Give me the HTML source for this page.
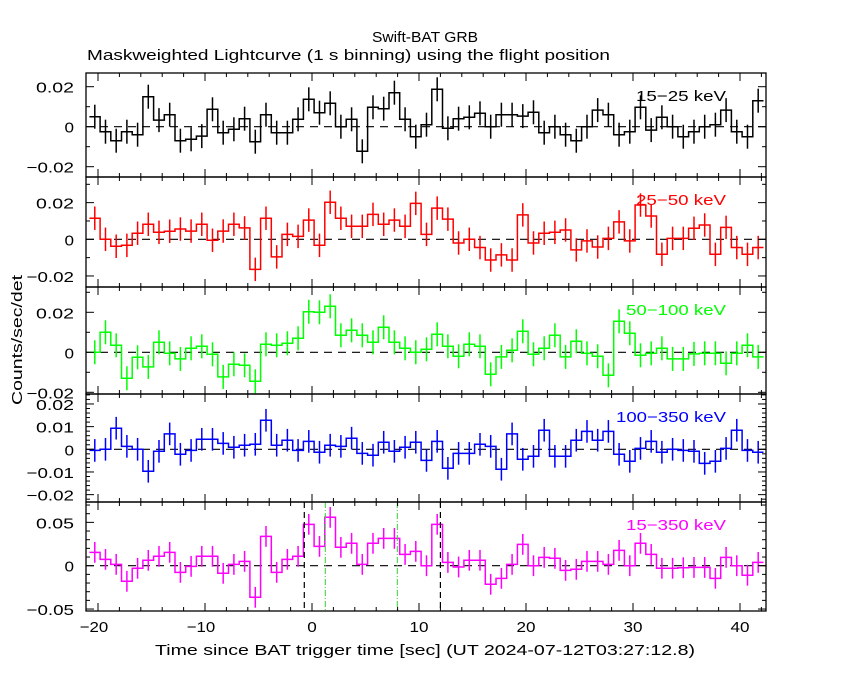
<!DOCTYPE html>
<html><head><meta charset="utf-8"><style>
body{margin:0;background:#fff;}
svg{display:block;font-family:"Liberation Sans","DejaVu Sans",sans-serif;}
</style></head><body>
<svg id="chart" width="850" height="680" viewBox="0 0 850 680" xmlns="http://www.w3.org/2000/svg">
<rect width="850" height="680" fill="#fff"/>
<text x="372" y="42" font-size="15" textLength="106" lengthAdjust="spacingAndGlyphs">Swift-BAT GRB</text>
<text x="87" y="60" font-size="15" textLength="523" lengthAdjust="spacingAndGlyphs">Maskweighted Lightcurve (1 s binning) using the flight position</text>
<text x="155" y="655" font-size="15" textLength="540" lengthAdjust="spacingAndGlyphs">Time since BAT trigger time [sec] (UT 2024-07-12T03:27:12.8)</text>
<text transform="translate(22,405) rotate(-90)" font-size="15" textLength="130" lengthAdjust="spacingAndGlyphs">Counts/sec/det</text>
<g id="plots"></g>
</svg>
<script>
// time bins (bin centers, seconds)
const binStart = -20.3;
const nBins = 63;
const series1 = [0.005,-0.0025,-0.007,-0.0025,-0.004,0.015,0.0033,0.006,-0.007,-0.0063,-0.0047,0.0087,-0.003,-0.0013,0.004,-0.0075,0.006,-0.003,-0.003,0.0037,0.0137,0.007,0.0117,0,0.0037,-0.0123,0.0097,0.009,0.017,0.0037,-0.005,0.001,0.0187,-0.0008,0.004,0.0047,0.0067,0,0.006,0.006,0.0053,0.0072,-0.003,0,-0.004,-0.007,0,0.0083,0.006,-0.004,-0.0025,0.0097,-0.0017,0.0047,0,-0.005,-0.0025,0,0.001,0.0083,-0.0025,-0.005,0.013];
const series2 = [0.0115,0,-0.0038,-0.0033,0.0033,0.0082,0.0038,0.0044,0.0056,0.0045,0.0082,-0.0005,0.0045,0.0082,0.0062,-0.0164,0.0115,-0.0096,0.0027,0.0016,0.0105,-0.0033,0.0202,0.0115,0.0071,0.0071,0.0136,0.0082,0.0105,0.0071,0.0196,0.0027,0.017,0.011,-0.002,0,-0.0045,-0.0113,-0.0085,-0.0113,0.0133,-0.002,0.0033,0.0038,0.0051,-0.0058,-0.0009,-0.0042,0.0005,0.0095,-0.0009,0.0187,0.0127,-0.0082,0.0005,0.0005,0.006,0.0078,-0.0082,0.0065,-0.0045,-0.0082,-0.0045];
const series3 = [0,0.01,0.0035,-0.013,-0.0025,-0.0073,0.005,-0.0005,-0.0033,0.002,0.003,-0.001,-0.0123,-0.006,-0.0065,-0.0145,0.004,0.0035,0.0045,0.007,0.0203,0.02,0.023,0.0085,0.011,0.0085,0.005,0.0125,0.005,0.002,0,0.0015,0.009,0.003,-0.002,0.004,0.003,-0.011,-0.0023,0.001,0.0105,-0.001,0.002,0.0085,-0.0023,0.0055,-0.0005,-0.002,-0.0115,0.0155,0.0095,-0.0015,-0.0005,0.002,-0.0033,-0.0033,-0.0008,-0.0005,-0.0005,-0.0055,-0.0005,0.0035,-0.0023];
const series4 = [-0.0005,0,0.0093,0.0013,0,-0.0097,-0.0009,0.0068,-0.0022,-0.0005,0.0044,0.0044,0.0026,0.0009,0.0018,0.0022,0.0128,0.0018,0.004,-0.0005,0.0035,-0.0013,0.0018,0.0013,0.0049,-0.0018,-0.0026,0.0031,-0.0009,0.0009,0.0031,-0.0049,0.0035,-0.0084,-0.0018,-0.0018,0.0022,0.0013,-0.0088,0.0068,-0.0044,-0.0031,0.0084,-0.0031,-0.0031,0.004,0.0079,0.004,0.0079,-0.0022,-0.0053,0.0004,0.0035,-0.0013,0,-0.0005,-0.0009,-0.0062,-0.0053,0.0004,0.0084,-0.0005,-0.0013];
const series5 = [0.0154,0.0073,0.0015,-0.018,-0.003,0.0062,0.0108,0.0154,-0.0077,-0.0008,0.0108,0.0108,-0.0088,0.0015,0.005,-0.0365,0.0338,-0.0077,0.0073,0.0108,0.0477,0.0223,0.0558,0.0212,0.0258,0.0015,0.0258,0.0315,0.0315,0.013,0.0165,0,0.0477,0.0038,-0.0015,0.0062,0.0062,-0.0215,-0.0146,0.0015,0.0246,0,0.0096,0.0085,-0.0054,-0.0042,0.005,0.005,0.0015,0.0177,0,0.0258,0.013,-0.003,-0.003,-0.0023,-0.002,-0.002,-0.0146,0.0096,0,-0.011,0.0038];
const errors = [0.006,0.0064,0.006,0.005,0.012];
const bandLabels = ["15-25 keV","25-50 keV","50-100 keV","100-350 keV","15-350 keV"];
const xTickLabels = [-20,-10,0,10,20,30,40];
const markerTimes = [-0.72, 12.0];
const markerTimes2 = [1.24, 7.97];

const NS="http://www.w3.org/2000/svg";
const L=86,R=766,X0=312,PXS=10.7;
function xs(t){return X0+PXS*t;}
const panels=[
 {data:series1,color:"#000",top:73,bot:177,y0:126.7,k:2000,maj:0.02,min:0.01,labs:[0.02,0,-0.02],name:"panel-15-25kev"},
 {data:series2,color:"#f00",top:177,bot:287,y0:239.3,k:1833,maj:0.02,min:0.01,labs:[0.02,0,-0.02],name:"panel-25-50kev"},
 {data:series3,color:"#0f0",top:287,bot:394,y0:352.3,k:2000,maj:0.02,min:0.01,labs:[0.02,0,-0.02],name:"panel-50-100kev"},
 {data:series4,color:"#00f",top:394,bot:502,y0:449.3,k:2267,maj:0.01,min:0.002,labs:[0.02,0.01,0,-0.01,-0.02],name:"panel-100-350kev"},
 {data:series5,color:"#f0f",top:502,bot:611,y0:565.7,k:866.7,maj:0.05,min:0.01,labs:[0.05,0,-0.05],name:"panel-15-350kev"}
];
const root=document.getElementById('plots');
function el(tag,attrs,parent){const e=document.createElementNS(NS,tag);for(const a in attrs)e.setAttribute(a,attrs[a]);(parent||root).appendChild(e);return e;}
function fmt(v){if(v===0)return "0";return (v<0?"\u2212":"")+Math.abs(v).toString();}
function tlen(s){return s.length*9.5;}
panels.forEach((p,pi)=>{
 const g=el('g',{});
 
 
 const ys=v=>p.y0-p.k*v;
 const cp=el('clipPath',{id:'cp'+pi},g);el('rect',{x:L,y:p.top,width:R-L,height:p.bot-p.top},cp);
 const z=el('line',{x1:L,x2:R,y1:p.y0,y2:p.y0,stroke:"#000","stroke-dasharray":"8,6","stroke-width":1.2},g);
 
 
 const dg=el('g',{'clip-path':'url(#cp'+pi+')'},g);
 let d="";
 p.data.forEach((v,i)=>{const c=binStart+i;const x1=xs(c-0.5),x2=xs(c+0.5),y=ys(v);d+=(i===0?"M":"L")+x1.toFixed(1)+","+y.toFixed(1)+"L"+x2.toFixed(1)+","+y.toFixed(1);});
 const path=el('path',{d:d,fill:"none",stroke:p.color,"stroke-width":1.5},dg);
 
 
 p.data.forEach((v,i)=>{const x=xs(binStart+i);const e=el('line',{x1:x,x2:x,y1:ys(v+errors[pi]),y2:ys(v-errors[pi]),stroke:p.color,"stroke-width":1.5},dg);
  
  });
 if(pi===4){
  markerTimes.forEach(t=>{const m=el('line',{x1:xs(t),x2:xs(t),y1:p.top,y2:p.bot,stroke:"#000","stroke-dasharray":"6,4","stroke-width":1.2},g);
   
   });
  markerTimes2.forEach(t=>{const m=el('line',{x1:xs(t),x2:xs(t),y1:p.top,y2:p.bot,stroke:"#3c3","stroke-dasharray":"6,2,1,2","stroke-width":1},g);
   
   });
 }
 el('rect',{x:L,y:p.top,width:R-L,height:p.bot-p.top,fill:"none",stroke:"#000","stroke-width":1.3},g);
 for(let t=-20;t<=42;t+=2){const x=xs(t);const len=(t%10===0)?8:4;
  el('line',{x1:x,x2:x,y1:p.bot,y2:p.bot-len,stroke:"#000"},g);el('line',{x1:x,x2:x,y1:p.top,y2:p.top+len,stroke:"#000"},g);}
 const vmin=(p.y0-p.bot)/p.k, vmax=(p.y0-p.top)/p.k;
 for(let n=Math.ceil(vmin/p.min-1e-6);n*p.min<=vmax+1e-9;n++){const v=n*p.min;const y=ys(v);
  const major=Math.abs(v/p.maj-Math.round(v/p.maj))<1e-6;const len=major?8:4;
  el('line',{x1:L,x2:L+len,y1:y,y2:y,stroke:"#000"},g);el('line',{x1:R,x2:R-len,y1:y,y2:y,stroke:"#000"},g);}
 p.labs.forEach(v=>{const s=fmt(v);const t=el('text',{x:L-12-tlen(s),y:ys(v)+6,"font-size":15,textLength:tlen(s),lengthAdjust:"spacingAndGlyphs"},g);t.textContent=s;
  
  });
 const s=bandLabels[pi].replace("-","\u2212");const w=s.length*10;
 const bl=el('text',{x:726-w,y:p.top+28,"font-size":15,fill:p.color,textLength:w,lengthAdjust:"spacingAndGlyphs"},g);bl.textContent=s;
 
 
});
xTickLabels.forEach(v=>{const s=fmt(v);const w=tlen(s);const t=el('text',{x:xs(v)-w/2-(v<0?4:0),y:632,"font-size":15,textLength:w,lengthAdjust:"spacingAndGlyphs"});t.textContent=s;
 
 });
</script>
</body></html>
